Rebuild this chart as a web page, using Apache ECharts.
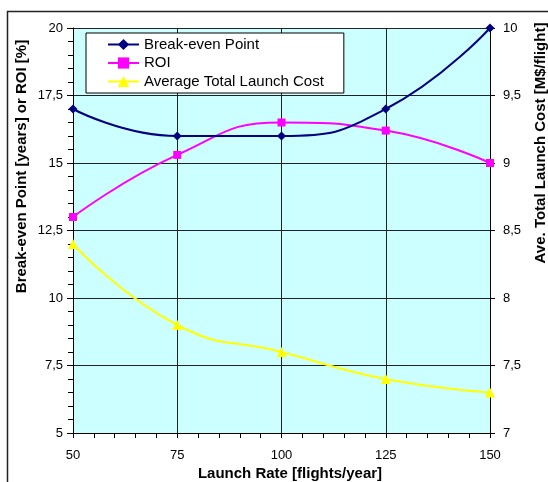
<!DOCTYPE html>
<html>
<head>
<meta charset="utf-8">
<script src="https://cdn.jsdelivr.net/npm/echarts@6/dist/echarts.min.js"></script>
<style>html,body{margin:0;padding:0;background:#fff;}#c{width:548px;height:482px;}</style>
</head>
<body>
<div id="c"></div>
<script>
const launchRates = [50, 75, 100, 125, 150];
const breakEven = [17, 16, 16, 17, 20];
const roi = [13, 15.3, 16.5, 16.2, 15];
const avgCost = [8.4, 7.8, 7.6, 7.4, 7.3];
const leftTicks = { min: 5, max: 20, interval: 2.5 };
const rightTicks = { min: 7, max: 10, interval: 0.5 };
const xTicks = { min: 50, max: 150, interval: 25 };

const pairs = ys => launchRates.map((x, i) => [x, ys[i]]);
const comma = v => String(v).replace('.', ',');
const FONT = '"Liberation Sans", Arial, sans-serif';

const chart = echarts.init(document.getElementById('c'), null, { renderer: 'canvas' });
chart.setOption({
  animation: false,
  backgroundColor: '#fff',
  textStyle: { fontFamily: FONT, color: '#000' },
  grid: { left: 73, right: 58, top: 28, bottom: 49, show: true, backgroundColor: '#CCFFFF', borderWidth: 0 },
  legend: {
    orient: 'vertical', left: 86, top: 33,
    padding: [4, 20, 4, 21],
    itemWidth: 31, itemHeight: 14, itemGap: 3.5,
    backgroundColor: '#fff', borderColor: '#000', borderWidth: 1, borderRadius: 0,
    textStyle: { fontSize: 15, fontFamily: FONT, color: '#000' },
    data: ['Break-even Point', 'ROI', 'Average Total Launch Cost']
  },
  xAxis: {
    type: 'value', min: xTicks.min, max: xTicks.max, interval: xTicks.interval,
    axisLine: { show: true, lineStyle: { color: '#000', width: 1 } },
    axisTick: { show: true, length: 5, lineStyle: { color: '#000' } },
    minorTick: { show: true, splitNumber: 5, length: 5, lineStyle: { color: '#000' } },
    splitLine: { show: true, lineStyle: { color: '#222', width: 1 } },
    axisLabel: { fontSize: 13, margin: 16, color: '#000', fontFamily: FONT }
  },
  yAxis: [
    {
      type: 'value', min: leftTicks.min, max: leftTicks.max, interval: leftTicks.interval,
      axisLine: { show: true, lineStyle: { color: '#000', width: 1 } },
      axisTick: { show: true, length: 6, lineStyle: { color: '#000' } },
      minorTick: { show: true, splitNumber: 5, length: 5, lineStyle: { color: '#000' } },
      splitLine: { show: true, lineStyle: { color: '#222', width: 1 } },
      axisLabel: { fontSize: 13, margin: 10, color: '#000', fontFamily: FONT, formatter: comma }
    },
    {
      type: 'value', position: 'right', min: rightTicks.min, max: rightTicks.max, interval: rightTicks.interval,
      axisLine: { show: true, lineStyle: { color: '#000', width: 1 } },
      axisTick: { show: true, length: 5, lineStyle: { color: '#000' } },
      splitLine: { show: false },
      axisLabel: { fontSize: 13, margin: 13, color: '#000', fontFamily: FONT, formatter: comma }
    }
  ],
  series: [
    {
      name: 'Break-even Point', type: 'line', yAxisIndex: 0, data: pairs(breakEven),
      smooth: 0.5, symbol: 'diamond', symbolSize: 9,
      lineStyle: { color: '#000080', width: 2 }, itemStyle: { color: '#000080' }, z: 4
    },
    {
      name: 'ROI', type: 'line', yAxisIndex: 0, data: pairs(roi),
      smooth: 0.5, symbol: 'rect', symbolSize: 8,
      lineStyle: { color: '#FF00FF', width: 2 }, itemStyle: { color: '#FF00FF' }, z: 3
    },
    {
      name: 'Average Total Launch Cost', type: 'line', yAxisIndex: 1, data: pairs(avgCost),
      smooth: 0.5, symbol: 'triangle', symbolSize: 10,
      lineStyle: { color: '#FFFF00', width: 2 }, itemStyle: { color: '#FFFF00' }, z: 2
    }
  ],
  graphic: [
    { type: 'rect', shape: { x: 7.5, y: 11.5, width: 700, height: 700 }, style: { fill: 'none', stroke: '#222', lineWidth: 1.5 }, silent: true, z: -1 },
    { type: 'text', x: 22, y: 166.5, rotation: Math.PI / 2,
      style: { text: 'Break-even Point [years] or ROI [%]', fontSize: 15, fontWeight: 'bold', fontFamily: FONT, fill: '#000', align: 'center', verticalAlign: 'middle' } },
    { type: 'text', x: 541, y: 143, rotation: Math.PI / 2,
      style: { text: 'Ave. Total Launch Cost [M$/flight]', fontSize: 15, fontWeight: 'bold', fontFamily: FONT, fill: '#000', align: 'center', verticalAlign: 'middle' } },
    { type: 'text', x: 290, y: 474,
      style: { text: 'Launch Rate [flights/year]', fontSize: 15, fontWeight: 'bold', fontFamily: FONT, fill: '#000', align: 'center', verticalAlign: 'middle' } }
  ]
});
</script>
</body>
</html>
